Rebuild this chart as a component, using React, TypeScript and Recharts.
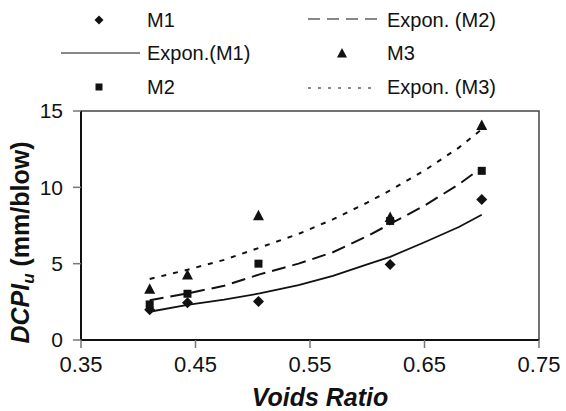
import { ComposedChart, Scatter, Line, XAxis, YAxis, ReferenceArea } from 'recharts'

// measured points (voids ratio vs DCPI_u)
const m1 = [
  { x: 0.41, y: 1.98 },
  { x: 0.443, y: 2.44 },
  { x: 0.505, y: 2.53 },
  { x: 0.62, y: 4.94 },
  { x: 0.7, y: 9.2 }
]

const m2 = [
  { x: 0.41, y: 2.33 },
  { x: 0.443, y: 3.03 },
  { x: 0.505, y: 5.0 },
  { x: 0.62, y: 7.8 },
  { x: 0.7, y: 11.08 }
]

const m3 = [
  { x: 0.41, y: 3.35 },
  { x: 0.443, y: 4.28 },
  { x: 0.505, y: 8.17 },
  { x: 0.62, y: 8.05 },
  { x: 0.7, y: 14.08 }
]

// trend lines
const trendM1 = [
  { x: 0.41, y: 1.85 },
  { x: 0.443, y: 2.3 },
  { x: 0.475, y: 2.65 },
  { x: 0.506, y: 3.05 },
  { x: 0.54, y: 3.6 },
  { x: 0.57, y: 4.2 },
  { x: 0.6, y: 4.95 },
  { x: 0.62, y: 5.45 },
  { x: 0.65, y: 6.4 },
  { x: 0.68, y: 7.4 },
  { x: 0.7, y: 8.2 }
]

const trendM2 = [
  { x: 0.41, y: 2.6 },
  { x: 0.443, y: 3.05 },
  { x: 0.475, y: 3.55 },
  { x: 0.506, y: 4.3 },
  { x: 0.54, y: 5.0 },
  { x: 0.57, y: 5.75 },
  { x: 0.6, y: 6.8 },
  { x: 0.62, y: 7.6 },
  { x: 0.65, y: 8.8 },
  { x: 0.68, y: 10.2 },
  { x: 0.7, y: 11.3 }
]

const trendM3 = [
  { x: 0.41, y: 4.0 },
  { x: 0.443, y: 4.6 },
  { x: 0.475, y: 5.25 },
  { x: 0.506, y: 6.05 },
  { x: 0.54, y: 6.95 },
  { x: 0.57, y: 7.9 },
  { x: 0.6, y: 9.0 },
  { x: 0.62, y: 9.8 },
  { x: 0.65, y: 11.1 },
  { x: 0.68, y: 12.6 },
  { x: 0.7, y: 13.8 }
]

const xTicks = [0.35, 0.45, 0.55, 0.65, 0.75]
const yTicks = [0, 5, 10, 15]

const FONT = '"Liberation Sans", Arial, sans-serif'
const INK = '#111'

const diamond = (cx: number, cy: number, r: number) => (
  <polygon points={`${cx},${cy - r} ${cx + r},${cy} ${cx},${cy + r} ${cx - r},${cy}`} fill={INK} />
)
const square = (cx: number, cy: number, r: number) => (
  <rect x={cx - r} y={cy - r} width={r * 2} height={r * 2} fill={INK} />
)
const triangle = (cx: number, cy: number, r: number) => (
  <polygon points={`${cx},${cy - r} ${cx + r},${cy + r * 0.9} ${cx - r},${cy + r * 0.9}`} fill={INK} />
)

const DiamondShape = (p: any) => diamond(p.cx, p.cy, 5.5)
const SquareShape = (p: any) => square(p.cx, p.cy, 4)
const TriangleShape = (p: any) => triangle(p.cx, p.cy, 5.5)

function ChartLegend() {
  const txt = { fontFamily: FONT, fontSize: 20, fill: INK }
  return (
    <svg width={566} height={105} style={{ position: 'absolute', left: 0, top: 0 }}>
      {diamond(99, 20, 4.5)}
      <text x={147} y={27} {...txt}>M1</text>
      <line x1={61} x2={140} y1={53} y2={53} stroke={INK} strokeWidth={1.2} />
      <text x={147} y={60} {...txt}>Expon.(M1)</text>
      {square(99, 87, 3.5)}
      <text x={147} y={94} {...txt}>M2</text>

      <line x1={308} x2={377} y1={19} y2={19} stroke={INK} strokeWidth={1.2} strokeDasharray="12 7" />
      <text x={387} y={27} {...txt}>Expon. (M2)</text>
      {triangle(342, 53, 5)}
      <text x={387} y={60} {...txt}>M3</text>
      <line x1={308} x2={377} y1={88} y2={88} stroke={INK} strokeWidth={1.2} strokeDasharray="3 7" />
      <text x={387} y={94} {...txt}>Expon. (M3)</text>
    </svg>
  )
}

const renderXLabel = (props: any) => {
  const vb = props.viewBox
  return (
    <text x={vb.x + vb.width / 2 + 10} y={406} textAnchor="middle" fontFamily={FONT} fontSize={25}
      fontWeight="bold" fontStyle="italic" fill={INK}>
      Voids Ratio
    </text>
  )
}

const renderYLabel = (props: any) => {
  const vb = props.viewBox
  const cx = 29
  const cy = vb.y + vb.height / 2 + 17
  return (
    <text x={cx} y={cy} transform={`rotate(-90 ${cx} ${cy})`} textAnchor="middle" fontFamily={FONT}
      fontSize={25} fontWeight="bold" fill={INK}>
      <tspan fontStyle="italic">DCPI</tspan>
      <tspan fontStyle="italic" fontSize={17} dy={5}>u</tspan>
      <tspan dy={-5}>{'  (mm/blow)'}</tspan>
    </text>
  )
}

export default function App() {
  return (
    <div style={{ position: 'absolute', left: 0, top: 0, width: 566, height: 411, background: '#fff' }}>
      <ComposedChart width={566} height={411} margin={{ top: 111, right: 27, bottom: 0, left: 0 }}>
        <XAxis
          type="number"
          dataKey="x"
          domain={[0.35, 0.75]}
          ticks={xTicks}
          tickFormatter={(v: number) => v.toFixed(2)}
          height={71}
          tickSize={8}
          tickMargin={8}
          axisLine={{ stroke: INK, strokeWidth: 2 }}
          tickLine={{ stroke: '#777', strokeWidth: 1.5 }}
          tick={{ fontFamily: FONT, fontSize: 22, fill: INK }}
          label={{ content: renderXLabel }}
          allowDataOverflow
        />
        <YAxis
          type="number"
          dataKey="y"
          domain={[0, 15]}
          ticks={yTicks}
          width={81}
          tickSize={8}
          tickMargin={10}
          axisLine={{ stroke: INK, strokeWidth: 2 }}
          tickLine={{ stroke: '#777', strokeWidth: 1.5 }}
          tick={{ fontFamily: FONT, fontSize: 21, fill: INK }}
          label={{ content: renderYLabel }}
          allowDataOverflow
        />
        <ReferenceArea x1={0.35} x2={0.75} y1={0} y2={15} fill="none" stroke="#444" strokeWidth={1.5} ifOverflow="visible" />

        <Line data={trendM1} dataKey="y" type="linear" stroke={INK} strokeWidth={1.8} dot={false} isAnimationActive={false} />
        <Line data={trendM2} dataKey="y" type="linear" stroke={INK} strokeWidth={2} strokeDasharray="14 7" dot={false} isAnimationActive={false} />
        <Line data={trendM3} dataKey="y" type="linear" stroke={INK} strokeWidth={2} strokeDasharray="5 7" dot={false} isAnimationActive={false} />

        <Scatter data={m1} dataKey="y" shape={DiamondShape} isAnimationActive={false} />
        <Scatter data={m2} dataKey="y" shape={SquareShape} isAnimationActive={false} />
        <Scatter data={m3} dataKey="y" shape={TriangleShape} isAnimationActive={false} />
      </ComposedChart>
      <ChartLegend />
    </div>
  )
}
